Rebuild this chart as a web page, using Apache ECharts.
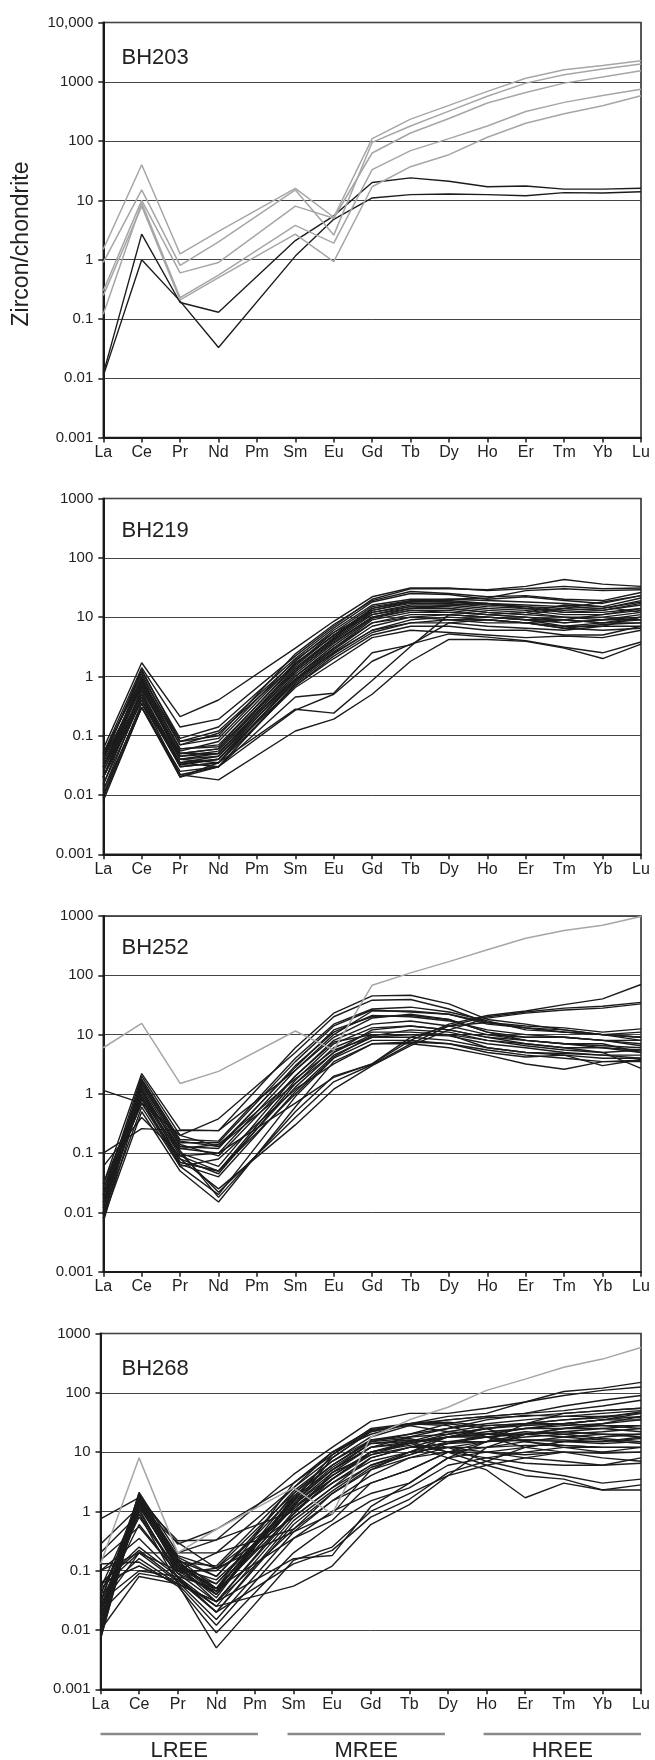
<!DOCTYPE html>
<html>
<head>
<meta charset="utf-8">
<script src="https://cdn.jsdelivr.net/npm/echarts@6/dist/echarts.min.js"></script>
<style>
html, body { margin: 0; padding: 0; background: #fff; }
#chart { width: 655px; height: 1760px; }
</style>
</head>
<body>
<div id="chart"></div>
<script>
// REE categories (Pm not analysed -> null, lines joined across it)
var elements = ['La', 'Ce', 'Pr', 'Nd', 'Pm', 'Sm', 'Eu', 'Gd', 'Tb', 'Dy', 'Ho', 'Er', 'Tm', 'Yb', 'Lu'];
var tickLabels = { '-3': '0.001', '-2': '0.01', '-1': '0.1', '0': '1', '1': '10', '2': '100', '3': '1000', '4': '10,000' };
var panelNames = ['BH203', 'BH219', 'BH252', 'BH268'];

// BH203
var bh203Grey = [
  [1.5, 40, 1.25, 3.0, null, 16, 5.2, 110, 235, 400, 690, 1150, 1600, 1880, 2260],
  [0.9, 15, 0.8, 2.0, null, 15, 2.6, 95, 180, 320, 570, 950, 1320, 1640, 2000],
  [0.3, 10, 0.6, 0.9, null, 8, 5.0, 63, 137, 240, 440, 660, 950, 1200, 1530],
  [0.12, 9, 0.23, 0.55, null, 3.8, 1.9, 33, 69, 110, 180, 316, 450, 590, 750],
  [0.25, 8, 0.21, 0.5, null, 2.7, 0.93, 17, 37, 59, 116, 200, 290, 395, 580]
];
var bh203Black = [
  [0.012, 2.7, 0.19, 0.13, null, 2.1, 5.5, 20, 24, 21, 17, 17.5, 15.5, 15.5, 16],
  [0.011, 1.0, 0.2, 0.033, null, 1.15, 4.8, 11, 12.5, 12.8, 12.5, 12, 13.5, 13.3, 14]
];

// BH219
var bh219Black = [
  [0.06, 1.7, 0.21, 0.40, null, 3.0, 8.5, 22, 31, 31, 28, 30, 33, 30, 31],
  [0.05, 1.4, 0.14, 0.19, null, 2.2, 7.0, 20, 30, 30, 29, 33, 43, 36, 33],
  [0.04, 1.2, 0.09, 0.14, null, 2.0, 6.5, 18, 25, 24, 20, 22, 19, 17, 23],
  [0.03, 1.0, 0.08, 0.12, null, 1.8, 6.0, 16, 20, 20, 19, 18, 17, 15, 21],
  [0.05, 0.9, 0.07, 0.11, null, 1.6, 5.5, 15, 19, 19, 17, 16, 15, 14, 18],
  [0.02, 0.8, 0.06, 0.07, null, 1.5, 5.0, 14, 18, 18, 17, 15, 14, 13, 16],
  [0.03, 0.7, 0.05, 0.06, null, 1.4, 4.5, 13, 17, 17, 15, 14, 12, 12, 14],
  [0.015, 0.6, 0.045, 0.055, null, 1.3, 4.2, 12, 16, 16, 14, 13, 11, 11, 13],
  [0.04, 0.75, 0.04, 0.05, null, 1.2, 4.0, 11, 15, 15, 13, 12, 10, 10, 12],
  [0.025, 0.55, 0.035, 0.045, null, 1.1, 3.6, 10, 14, 14, 12, 11, 10, 9, 11],
  [0.02, 0.5, 0.033, 0.04, null, 1.0, 3.3, 9.5, 13, 13, 11, 10, 9, 8, 10],
  [0.012, 0.45, 0.03, 0.035, null, 0.9, 3.0, 9, 12, 12, 11, 10, 8, 9, 9],
  [0.03, 0.65, 0.04, 0.035, null, 0.85, 2.8, 8, 11, 11, 10, 9, 9, 8, 9],
  [0.02, 0.4, 0.032, 0.04, null, 0.8, 2.6, 7, 10, 11, 10, 9, 7, 8, 8],
  [0.01, 0.35, 0.035, 0.03, null, 0.75, 2.4, 6, 9, 10, 9, 8, 7, 7, 7],
  [0.008, 0.3, 0.025, 0.03, null, 0.7, 2.2, 5.5, 8, 9, 9, 8, 6.5, 6, 6.5],
  [0.035, 0.85, 0.06, 0.065, null, 1.6, 5.0, 11, 14, 16, 17, 14, 13, 14, 19],
  [0.045, 1.1, 0.07, 0.09, null, 1.9, 5.5, 12, 15, 14, 12, 11, 14, 18, 23],
  [0.02, 0.6, 0.05, 0.05, null, 1.2, 3.8, 10, 13, 12, 11, 12, 16, 15, 12],
  [0.025, 0.7, 0.045, 0.05, null, 1.0, 3.0, 8, 10, 9, 8, 8, 9, 11, 14],
  [0.03, 0.5, 0.04, 0.045, null, 0.9, 2.5, 6, 8, 8, 7, 6.5, 6, 7, 10],
  [0.02, 0.45, 0.035, 0.04, null, 0.7, 2.0, 5, 7, 7, 6, 6, 5, 5, 7],
  [0.015, 0.4, 0.03, 0.035, null, 0.65, 1.7, 4.5, 6, 5.5, 5, 4.5, 4.8, 4.5, 6],
  [0.02, 0.4, 0.022, 0.03, null, 0.45, 0.52, 2.5, 3.4, 8, 9, 8, 6.5, 7.5, 8],
  [0.01, 0.35, 0.02, 0.03, null, 0.27, 0.5, 1.8, 3.5, 5.2, 4.6, 4.0, 3.1, 2.5, 3.8],
  [0.009, 0.3, 0.022, 0.018, null, 0.12, 0.19, 0.5, 1.8, 4.2, 4.2, 3.9, 3.0, 2.0, 3.5],
  [0.012, 0.3, 0.02, 0.035, null, 0.28, 0.24, 0.85, 3.2, 11, 10, 9, 8, 9, 10],
  [0.04, 1.3, 0.08, 0.1, null, 2.4, 7.5, 19, 27, 25, 22, 23, 20, 19, 26],
  [0.05, 0.95, 0.055, 0.08, null, 1.7, 4.8, 13, 18, 20, 21, 28, 30, 28, 29],
  [0.03, 0.8, 0.05, 0.06, null, 1.3, 4.4, 14, 19, 18, 16, 15, 12, 13, 17]
];

// BH252
var bh252Grey = [
  [6.0, 15.5, 1.5, 2.4, null, 11.5, 5.5, 68, 110, 170, 270, 420, 570, 700, 980]
];
var bh252Black = [
  [1.15, 0.7, 0.2, 0.13, null, 1.5, 5, 12, 14, 12, 9, 8, 7, 6, 5.5],
  [0.1, 0.26, 0.24, 0.24, null, 2.5, 10, 25, 25, 22, 16, 13, 11, 10, 9],
  [0.03, 2.2, 0.25, 0.24, null, 6, 23, 45, 46, 33, 18, 15, 12, 10, 9],
  [0.02, 2.0, 0.2, 0.38, null, 5, 20, 38, 39, 27, 16, 14, 13, 11, 12.5],
  [0.015, 1.8, 0.17, 0.16, null, 4, 15, 27, 29, 24, 17, 12, 11, 10, 8],
  [0.01, 1.6, 0.15, 0.15, null, 3.5, 14, 26, 24, 22, 15, 13, 12, 10, 11],
  [0.008, 1.5, 0.13, 0.12, null, 3, 11, 21, 20, 17, 12, 10, 9, 8, 7],
  [0.02, 1.3, 0.12, 0.1, null, 2.5, 9, 19, 22, 18, 11, 9, 9, 8, 6.5],
  [0.012, 1.2, 0.1, 0.06, null, 2.0, 8, 15, 17, 14, 10, 8, 7, 6.5, 6],
  [0.007, 1.0, 0.09, 0.05, null, 1.7, 7, 13, 14, 12, 9, 7, 6, 6, 5],
  [0.025, 0.9, 0.08, 0.045, null, 1.5, 6, 11, 11, 10, 8, 7, 6, 5, 5.5],
  [0.015, 0.8, 0.07, 0.05, null, 1.3, 5, 10, 10, 9.5, 7, 6, 5, 4.5, 4.5],
  [0.02, 0.7, 0.065, 0.04, null, 1.1, 4.5, 9, 9, 8, 6, 5, 4.5, 4, 4],
  [0.01, 0.6, 0.06, 0.02, null, 0.9, 4, 8, 8, 7, 5.5, 4.5, 4, 3.5, 3.5],
  [0.008, 0.5, 0.05, 0.015, null, 0.6, 3.5, 7, 7, 6, 4.5, 3.2, 2.6, 3.5, 3.7],
  [0.03, 1.1, 0.11, 0.018, null, 0.5, 2, 3.2, 8, 15, 21, 25, 32, 40, 70],
  [0.015, 0.9, 0.1, 0.022, null, 0.4, 1.6, 3.1, 7, 14, 20, 24, 28, 30, 35],
  [0.02, 0.7, 0.08, 0.025, null, 0.3, 1.2, 3.0, 6.5, 12, 19, 23, 26, 28, 33],
  [0.06, 0.4, 0.09, 0.1, null, 0.7, 1.9, 3.2, 9, 14, 16, 13, 11, 10, 9],
  [0.025, 1.4, 0.14, 0.09, null, 2, 7.5, 10, 10, 10, 10, 9, 9, 8, 8],
  [0.012, 1.7, 0.16, 0.13, null, 2.8, 12, 20, 21, 18, 11, 8, 7, 7, 5],
  [0.018, 1.0, 0.12, 0.14, null, 1.8, 5.5, 9, 10, 10, 6, 5, 4.8, 4.5, 4],
  [0.009, 1.2, 0.07, 0.05, null, 1.0, 4.2, 9.5, 12, 11, 8, 6.5, 5.5, 5, 2.7],
  [0.014, 0.85, 0.06, 0.08, null, 1.2, 3.2, 7, 7.5, 7, 5, 4.2, 4.5, 3, 3.8]
];

// BH268
var bh268Grey = [
  [0.13, 8, 0.2, 0.5, null, 2.5, 0.9, 18, 35, 57, 110, 170, 270, 370, 580]
];
var bh268Black = [
  [0.007, 1.5, 0.32, 0.33, null, 4.2, 12, 33, 45, 45, 55, 70, 105, 120, 150],
  [0.01, 1.8, 0.28, 0.5, null, 3, 9, 25, 30, 40, 45, 70, 90, 110, 125],
  [0.015, 2.1, 0.2, 0.2, null, 2.5, 8, 22, 30, 35, 40, 45, 60, 75, 90],
  [0.02, 1.6, 0.18, 0.11, null, 2.0, 7, 18, 28, 35, 40, 45, 50, 60, 75],
  [0.03, 1.9, 0.15, 0.08, null, 1.8, 6, 15, 20, 30, 38, 40, 45, 50, 55],
  [0.75, 1.7, 0.13, 0.06, null, 1.5, 5, 12, 18, 25, 30, 35, 40, 45, 50],
  [0.28, 1.2, 0.12, 0.05, null, 1.3, 4, 10, 15, 22, 28, 30, 35, 40, 45],
  [0.2, 0.9, 0.1, 0.04, null, 1.2, 3.5, 10, 14, 20, 25, 28, 30, 35, 40],
  [0.15, 0.55, 0.09, 0.03, null, 1.0, 3, 8, 12, 18, 20, 25, 28, 30, 35],
  [0.1, 0.35, 0.08, 0.025, null, 0.8, 2.5, 6, 10, 15, 18, 20, 25, 28, 28],
  [0.06, 0.22, 0.07, 0.02, null, 0.6, 2, 5, 8, 12, 15, 18, 20, 22, 25],
  [0.05, 0.2, 0.065, 0.015, null, 0.45, 1.5, 3, 5, 10, 12, 15, 18, 20, 20],
  [0.04, 0.16, 0.06, 0.012, null, 0.35, 1.0, 2, 3, 8, 10, 12, 15, 15, 18],
  [0.13, 0.14, 0.055, 0.009, null, 0.2, 0.6, 1.5, 2.5, 6, 8, 10, 12, 12, 12],
  [0.06, 0.12, 0.06, 0.005, null, 0.15, 0.25, 1.0, 2, 4, 6, 8, 10, 10, 10],
  [0.03, 0.1, 0.08, 0.02, null, 0.13, 0.22, 0.8, 1.6, 4.5, 7, 12, 15, 18, 20],
  [0.02, 0.09, 0.07, 0.025, null, 0.055, 0.12, 0.6, 1.3, 4, 12, 20, 25, 30, 40],
  [0.01, 0.08, 0.06, 0.03, null, 0.16, 0.18, 1.2, 3, 8, 15, 30, 45, 50, 55],
  [0.012, 2.0, 0.15, 0.04, null, 1.2, 8, 22, 30, 30, 25, 15, 12, 10, 12],
  [0.02, 1.6, 0.13, 0.05, null, 1.5, 9, 23, 30, 28, 18, 12, 10, 8, 7],
  [0.008, 1.5, 0.12, 0.035, null, 1.8, 6, 15, 17, 12, 7, 5, 4, 3, 3.5],
  [0.015, 1.4, 0.1, 0.06, null, 1.4, 5, 12, 15, 10, 6, 4, 3.5, 2.3, 2.8],
  [0.01, 1.3, 0.11, 0.07, null, 1.1, 4, 10, 13, 8, 5, 1.7, 3, 2.3, 2.3],
  [0.025, 1.0, 0.09, 0.045, null, 0.9, 3.5, 10, 14, 10, 8, 6.5, 6, 6, 6.5],
  [0.04, 0.8, 0.1, 0.1, null, 0.8, 2.5, 8, 12, 12, 12, 13, 13, 12, 12],
  [0.03, 1.7, 0.14, 0.12, null, 2.5, 10, 20, 30, 32, 28, 30, 30, 35, 45],
  [0.018, 1.9, 0.17, 0.08, null, 2.2, 7, 16, 18, 20, 25, 30, 35, 38, 48],
  [0.007, 1.8, 0.16, 0.05, null, 3.0, 10, 24, 28, 22, 20, 20, 22, 25, 28],
  [0.05, 1.4, 0.11, 0.04, null, 1.6, 5.5, 14, 16, 15, 15, 16, 16, 15, 17],
  [0.02, 1.2, 0.12, 0.03, null, 0.9, 4.5, 9, 12, 14, 15, 16, 15, 14, 15],
  [0.03, 0.6, 0.09, 0.11, null, 0.45, 0.9, 5, 10, 18, 25, 30, 30, 28, 25],
  [0.06, 0.25, 0.08, 0.05, null, 0.35, 0.7, 3, 5, 10, 15, 20, 22, 20, 18],
  [0.015, 1.1, 0.075, 0.02, null, 0.7, 2.2, 6, 9, 14, 20, 25, 30, 35, 35],
  [0.025, 0.2, 0.2, 0.33, null, 1.0, 3, 7, 10, 12, 10, 8, 7, 6, 8],
  [0.1, 0.2, 0.1, 0.2, null, 0.5, 1.5, 4, 8, 10, 10, 9, 10, 9.5, 10],
  [0.012, 1.5, 0.14, 0.045, null, 2.0, 6, 16, 20, 25, 35, 42, 40, 40, 38],
  [0.009, 1.6, 0.13, 0.04, null, 1.7, 5, 14, 15, 18, 20, 20, 18, 16, 14],
  [0.02, 2.0, 0.12, 0.05, null, 1.3, 4.5, 12, 14, 18, 22, 25, 25, 25, 22],
  [0.04, 1.2, 0.3, 0.11, null, 1.1, 3.5, 9, 14, 18, 18, 15, 13, 12, 12],
  [0.02, 0.9, 0.06, 0.03, null, 0.5, 2, 5.5, 9, 14, 18, 22, 20, 17, 15]
];

var FONT = '"Liberation Sans", Arial, sans-serif';
var DECADE = 59.3;
var panels = [
  { top: 22.5, left: 103.3, max: 10000, decades: 7, grey: bh203Grey, black: bh203Black, labelDy: 35 },
  { top: 498.5, left: 103.3, max: 1000, decades: 6, grey: [], black: bh219Black, labelDy: 32 },
  { top: 916, left: 103.3, max: 1000, decades: 6, grey: bh252Grey, black: bh252Black, labelDy: 32 },
  { top: 1333.5, left: 100.5, max: 1000, decades: 6, grey: bh268Grey, black: bh268Black, labelDy: 35 }
];

var grids = [], xAxes = [], yAxes = [], series = [], graphics = [];

panels.forEach(function (p, i) {
  grids.push({
    left: p.left, top: p.top, width: 641 - p.left, height: p.decades * DECADE,
    show: true, borderColor: '#222', borderWidth: 1.5, backgroundColor: 'transparent'
  });
  xAxes.push({
    gridIndex: i, type: 'category', data: elements, boundaryGap: false,
    axisLine: { lineStyle: { color: '#1a1a1a', width: 2 } },
    axisTick: { show: true, length: 5, lineStyle: { color: '#1a1a1a', width: 1.5 } },
    axisLabel: { interval: 0, color: '#222', fontSize: 16, margin: 7, fontFamily: FONT },
    splitLine: { show: false }
  });
  yAxes.push({
    gridIndex: i, type: 'log', logBase: 10, min: 0.001, max: p.max,
    axisLine: { show: true, lineStyle: { color: '#1a1a1a', width: 2 } },
    axisTick: { show: true, length: 5, lineStyle: { color: '#1a1a1a', width: 1.5 } },
    axisLabel: {
      color: '#222', fontSize: 15, margin: 10, fontFamily: FONT,
      formatter: function (v) { return tickLabels[String(Math.round(Math.log10(v)))] || ''; }
    },
    splitLine: { show: true, lineStyle: { color: '#444', width: 1 } },
    minorTick: { show: false }
  });
  p.black.forEach(function (row) {
    series.push({
      type: 'line', xAxisIndex: i, yAxisIndex: i, data: row, connectNulls: true,
      symbol: 'none', silent: true, lineStyle: { color: '#1c1c1c', width: 1.4 }
    });
  });
  p.grey.forEach(function (row) {
    series.push({
      type: 'line', xAxisIndex: i, yAxisIndex: i, data: row, connectNulls: true,
      symbol: 'none', silent: true, lineStyle: { color: '#a6a6a6', width: 1.5 }
    });
  });
  graphics.push({
    type: 'text', x: 121.5, y: p.top + p.labelDy,
    style: { text: panelNames[i], font: '22px ' + FONT, fill: '#222', textAlign: 'left', textVerticalAlign: 'middle' }
  });
});

graphics.push({
  type: 'text', x: 22, y: 244, rotation: Math.PI / 2,
  style: { text: 'Zircon/chondrite', font: '23px ' + FONT, fill: '#222', textAlign: 'center', textVerticalAlign: 'middle' }
});

var chart = echarts.init(document.getElementById('chart'), null, { renderer: 'canvas' });
chart.setOption({
  animation: false,
  backgroundColor: '#fff',
  grid: grids,
  xAxis: xAxes,
  yAxis: yAxes,
  series: series,
  graphic: graphics
});

// REE group bars under the last panel, placed at the category positions
var groups = [['LREE', 'La', 'Pm', 0, 3], ['MREE', 'Sm', 'Dy', -6, -3], ['HREE', 'Ho', 'Lu', -3, 0]];
groups.forEach(function (g) {
  var x1 = chart.convertToPixel({ xAxisIndex: 3 }, g[1]) + g[3];
  var x2 = chart.convertToPixel({ xAxisIndex: 3 }, g[2]) + g[4];
  graphics.push({
    type: 'line', shape: { x1: x1, y1: 1734, x2: x2, y2: 1734 },
    style: { stroke: '#8a8a8a', lineWidth: 2.5 }
  });
  graphics.push({
    type: 'text', x: (x1 + x2) / 2, y: 1751,
    style: { text: g[0], font: '22px ' + FONT, fill: '#222', textAlign: 'center', textVerticalAlign: 'middle' }
  });
});
chart.setOption({ graphic: graphics });
</script>
</body>
</html>
